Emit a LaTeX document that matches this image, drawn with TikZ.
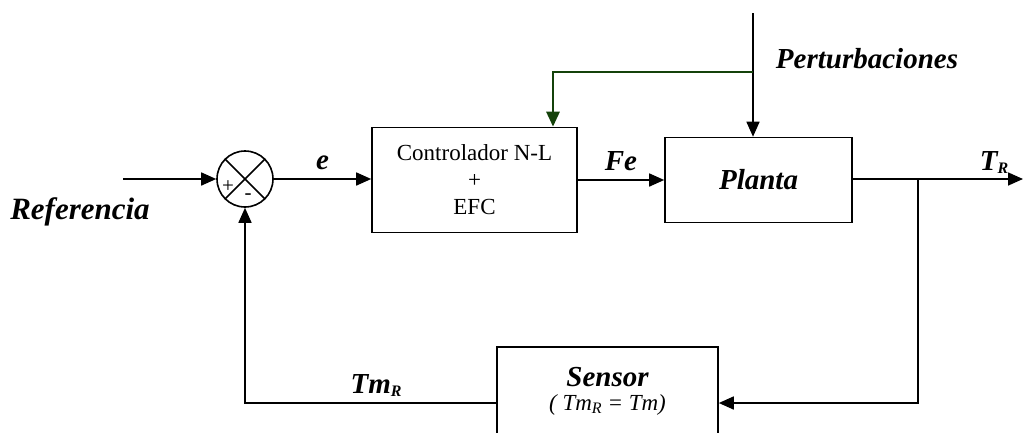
\documentclass[tikz,border=0pt]{standalone}
\usepackage{fontspec}
\setmainfont{Liberation Serif}
\usepackage{xcolor}
\usepackage{tikz}
\usetikzlibrary{arrows.meta, positioning}

\definecolor{distgreen}{RGB}{20,66,10}
\newcommand{\lowidx}[1]{{\fontsize{16}{16}\selectfont\raisebox{-3pt}{#1}}}

\begin{document}
\begin{tikzpicture}[
    x=1pt, y=-1pt,
    blk/.style    = {rectangle, draw, line width=1.6pt, inner sep=0pt},
    sumnode/.style= {circle, draw, line width=1.6pt, minimum size=56pt, inner sep=0pt},
    arr/.style    = {-{Triangle[length=15pt, width=13pt]}, line width=1.6pt},
    garr/.style   = {-{Triangle[length=15pt, width=13pt]}, line width=2.8pt, draw=distgreen},
    lbl/.style    = {font=\fontsize{29}{31}\selectfont\bfseries\itshape, inner sep=0pt}
]
\clip (0,0) rectangle (1024,432);

%% Blocks
\node[sumnode]                                   (sum)    at (245,179) {};
\node[blk, minimum width=205pt, minimum height=105pt, align=center,
      font=\fontsize{23}{27}\selectfont]          (ctrl)   at (474.5,180) {Controlador N-L\\+\\EFC};
\node[blk, minimum width=187pt, minimum height=85pt,
      font=\fontsize{29}{31}\selectfont\bfseries\itshape] (planta) at (758.5,180) {Planta};
\node[blk, minimum width=221pt, minimum height=88pt, align=center,
      font=\fontsize{23}{24}\selectfont]          (sensor) at (607.5,391)
      {{\fontsize{29}{31}\selectfont\bfseries\itshape Sensor}\\
       {\itshape ( Tm\lowidx{R} = Tm)}};

%% Cross and signs of the summing point
\draw[line width=1.6pt] (sum.north west) -- (sum.south east);
\draw[line width=1.6pt] (sum.north east) -- (sum.south west);
\node[font=\fontsize{21}{21}\selectfont, inner sep=0pt] (plus)  at (228,187) {+};
\node[font=\fontsize{21}{21}\selectfont, inner sep=0pt] (minus) at (248,197) {-};

%% Free ends and branch points
\coordinate (ref)    at (123,179);
\coordinate (out)    at (1023,179);
\coordinate (br)     at (918,179);
\coordinate (br2)    at (918,403);
\coordinate (dist)   at (753,13);
\coordinate (dsplit) at (753,72);
\coordinate (gturn)  at (553,72);

%% Forward path
\draw[arr] (ref) -- (sum);
\draw[arr] (sum) -- (sum -| ctrl.west) node[lbl, midway, above=8pt] (e) {e};
\draw[arr] (ctrl) -- (planta) node[lbl, midway, above=8pt] (fe) {Fe};
\draw[arr] (br -| planta.east) -- (out);

%% Feedback path
\draw[arr] (br) -- (br2) -- (br2 -| sensor.east);
\draw[arr] (sensor.west |- br2) -| (sum.south);

%% Disturbance
\draw[arr] (dist) -- (dist |- planta.north);
\draw[garr] (dsplit) -- (gturn) -- (gturn |- ctrl.north);

%% Labels
\node[lbl, font=\fontsize{31}{33}\selectfont\bfseries\itshape] (reflbl) at (80,212) {Referencia};
\node[lbl] (trlbl)   at (994,162) {T\lowidx{R}};
\node[lbl] (pertlbl) at (867,59)  {Perturbaciones};
\node[lbl] (tmrlbl)  at (376,385) {Tm\lowidx{R}};

\end{tikzpicture}
\end{document}
